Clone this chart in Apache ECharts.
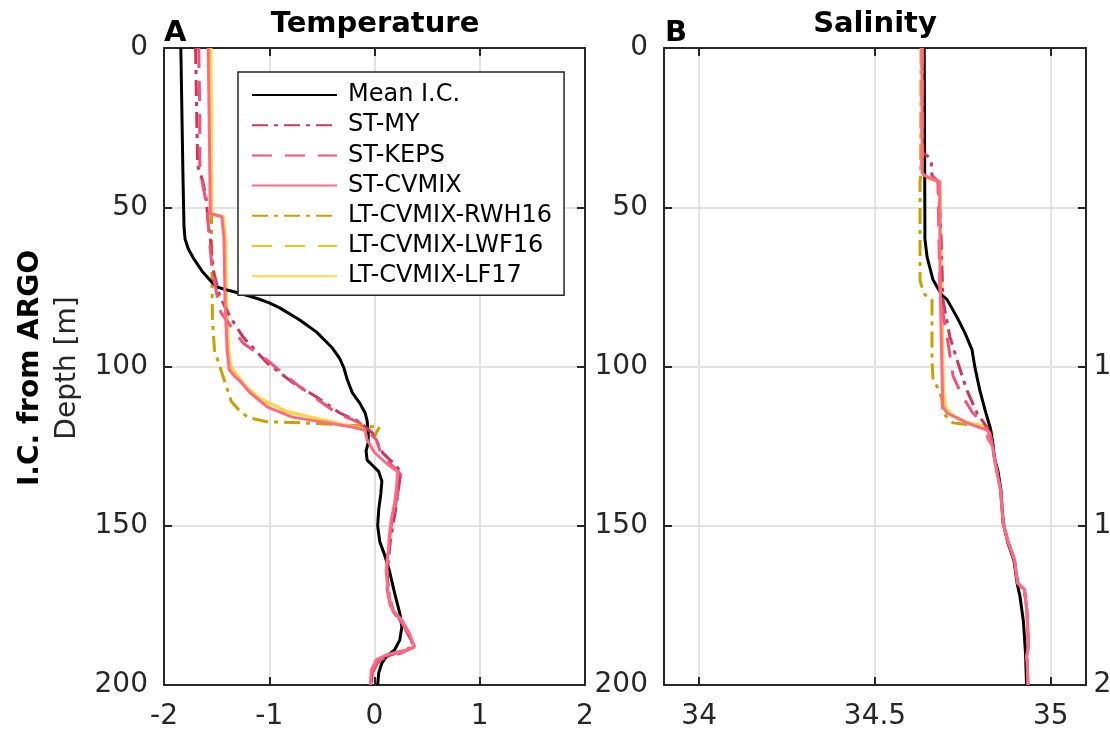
<!DOCTYPE html>
<html>
<head>
<meta charset="utf-8">
<script src="https://cdn.jsdelivr.net/npm/echarts@6/dist/echarts.min.js"></script>
<style>
html, body { margin: 0; padding: 0; background: #fff; }
#chart { width: 1110px; height: 734px; }
</style>
</head>
<body>
<div id="chart"></div>
<script>
// ticks
const depthTicks = [0, 50, 100, 150, 200];
const tempTicks = [-2, -1, 0, 1, 2];
const salTicks = [34, 34.5, 35];

const names = ['Mean I.C.', 'ST-MY', 'ST-KEPS', 'ST-CVMIX', 'LT-CVMIX-RWH16', 'LT-CVMIX-LWF16', 'LT-CVMIX-LF17'];

// temperature profiles [T, depth]
const tempMean = [[-1.84,0],[-1.83,20],[-1.82,40],[-1.81,56],[-1.80,60],[-1.77,63],[-1.72,66],[-1.64,70],[-1.56,73],[-1.50,75],[-1.40,76],[-1.28,77],[-1.10,78.8],[-1.00,80],[-0.90,81.6],[-0.71,85.4],[-0.55,89.2],[-0.40,94.2],[-0.33,97.5],[-0.29,100.5],[-0.26,104],[-0.21,108.3],[-0.14,111.5],[-0.09,114.5],[-0.07,117],[-0.06,121],[-0.06,124],[-0.08,126.5],[-0.07,129.4],[-0.02,131],[0.04,133],[0.07,136],[0.06,140],[0.04,145],[0.03,150],[0.05,155],[0.09,158.6],[0.14,163.9],[0.19,171],[0.24,177.4],[0.26,181.8],[0.24,185.9],[0.19,189],[0.11,191.2],[0.07,193.1],[0.04,196.2],[0.03,200]];
const tempSTMY = [[-1.70,0],[-1.69,20],[-1.68,37],[-1.63,42],[-1.60,47],[-1.58,55],[-1.56,60],[-1.53,70],[-1.47,78],[-1.37,84.5],[-1.25,90.7],[-1.02,98.9],[-0.78,105],[-0.55,109.6],[-0.33,114.6],[-0.14,117.4],[-0.02,120.9],[0.08,127.2],[0.20,131],[0.25,133],[0.23,138],[0.20,145],[0.15,155],[0.12,165],[0.14,172],[0.18,177],[0.27,181],[0.35,186],[0.37,188],[0.20,190],[0.05,192],[-0.02,196],[-0.03,200]];
const tempSTKEPS = [[-1.67,0],[-1.66,20],[-1.66,38],[-1.62,45],[-1.59,50],[-1.57,60],[-1.54,70],[-1.50,77],[-1.46,83],[-1.25,92.6],[-1.02,98],[-0.71,106.4],[-0.36,114.6],[-0.14,117.7],[0.02,123.1],[0.07,128.4],[0.20,132],[0.25,134],[0.22,140],[0.16,150],[0.12,160],[0.12,170],[0.15,175],[0.25,180],[0.34,185],[0.38,188],[0.25,190],[0.05,192],[-0.02,196],[-0.03,200]];
const tempSTCVMIX = [[-1.58,0],[-1.57,25],[-1.56,52],[-1.45,53],[-1.43,60],[-1.42,80],[-1.40,95],[-1.38,101],[-1.33,103],[-1.28,104.5],[-1.18,108.3],[-1.02,112.7],[-0.78,115.9],[-0.45,117.7],[-0.21,119],[-0.09,120],[-0.07,123],[0.0,127],[0.11,130.3],[0.22,133],[0.21,137.8],[0.19,143],[0.16,148],[0.14,153.5],[0.13,158.6],[0.11,163.9],[0.13,171],[0.17,176.5],[0.26,179.6],[0.33,183.7],[0.38,188],[0.30,189],[0.11,190.6],[0.02,192],[-0.03,195.3],[-0.04,200]];
const tempRWH16 = [[-1.56,0],[-1.555,25],[-1.55,50],[-1.545,70],[-1.54,85],[-1.52,95],[-1.47,100],[-1.42,105],[-1.36,111],[-1.28,114],[-1.20,116],[-1.03,117.3],[-0.62,117.8],[-0.27,118.4],[0.05,119],[0.03,120],[0.0,122]];
const tempLWF16 = [[-1.56,0],[-1.555,25],[-1.55,52],[-1.44,53],[-1.42,60],[-1.41,80],[-1.39,95],[-1.37,100],[-1.32,102.5],[-1.24,106],[-1.10,110],[-0.85,114],[-0.60,116],[-0.35,117.8],[-0.15,119.3],[-0.02,120.6],[0.0,121.5]];
const tempLF17 = [[-1.555,0],[-1.55,25],[-1.545,52],[-1.435,53],[-1.415,60],[-1.405,80],[-1.385,95],[-1.365,100],[-1.31,102.5],[-1.23,106],[-1.09,110],[-0.84,114],[-0.59,116],[-0.34,117.9],[-0.14,119.4],[-0.02,120.7],[0.0,121.5]];

// salinity profiles [S, depth]
const salMean = [[34.640,0],[34.641,30],[34.642,60],[34.648,65.6],[34.665,72.8],[34.690,77.6],[34.705,79],[34.733,84.5],[34.756,89.5],[34.776,94.8],[34.784,100.2],[34.798,107.4],[34.813,113.7],[34.827,119],[34.835,124],[34.840,129],[34.850,133],[34.858,138.8],[34.864,149],[34.878,155.4],[34.895,160.8],[34.904,168],[34.912,172],[34.922,180],[34.928,190],[34.931,200]];
const salSTMY = [[34.636,0],[34.636,33],[34.650,34],[34.660,36],[34.662,40],[34.680,42],[34.688,60],[34.693,79],[34.713,90.7],[34.736,98.9],[34.761,107.4],[34.790,114.6],[34.818,119],[34.833,124],[34.842,130],[34.857,138.8],[34.865,149],[34.880,155.4],[34.897,160.8],[34.906,168],[34.925,170.5],[34.932,176.5],[34.936,188],[34.931,191],[34.933,193],[34.935,200]];
const salSTKEPS = [[34.634,0],[34.634,37],[34.650,39],[34.679,42],[34.682,60],[34.685,78],[34.705,90.7],[34.722,103],[34.750,109.6],[34.778,114.6],[34.807,117.7],[34.827,121],[34.835,125],[34.842,130],[34.857,138.8],[34.864,149],[34.879,155.4],[34.897,160.8],[34.905,168],[34.925,170],[34.932,176.5],[34.937,188],[34.931,191],[34.933,193],[34.935,200]];
const salSTCVMIX = [[34.634,0],[34.634,39],[34.640,40],[34.660,41],[34.684,42],[34.685,72.8],[34.690,100],[34.693,112.7],[34.705,114.6],[34.761,117.7],[34.818,120],[34.827,121],[34.818,122],[34.835,125.3],[34.841,130],[34.857,138.8],[34.864,149],[34.879,155.4],[34.897,160.8],[34.905,168],[34.925,170],[34.932,176.5],[34.936,188],[34.931,191],[34.933,193],[34.935,200]];
const salRWH16 = [[34.631,0],[34.630,40],[34.628,42],[34.628,73],[34.636,76],[34.642,77.5],[34.662,79],[34.662,98],[34.665,104],[34.680,107],[34.690,110],[34.693,114.6],[34.722,117.7],[34.827,119],[34.835,122]];
const salLWF16 = [[34.633,0],[34.633,39],[34.640,40.5],[34.684,42],[34.686,60],[34.690,78],[34.692,100],[34.694,108],[34.700,113],[34.715,115],[34.760,117.5],[34.800,118.5],[34.820,119.5],[34.830,121]];
const salLF17 = [[34.634,0],[34.634,39],[34.641,40.5],[34.685,42],[34.687,60],[34.691,78],[34.693,100],[34.695,108],[34.701,113],[34.716,115],[34.761,117.5],[34.801,118.5],[34.821,119.5],[34.831,121]];

const tempData = [tempMean, tempSTMY, tempSTKEPS, tempSTCVMIX, tempRWH16, tempLWF16, tempLF17];
const salData = [salMean, salSTMY, salSTKEPS, salSTCVMIX, salRWH16, salLWF16, salLF17];

const colors = ['#000000', '#c9385b', '#f2517a', '#ff6b82', '#c9a000', '#f6c20f', '#ffd43f'];
const dashes = ['solid', [16, 6, 4, 6], [20, 13], 'solid', [16, 6, 4, 6], [20, 13], 'solid'];
const zs = [2, 3, 3, 3, 1, 1, 1];

const font = 'DejaVu Sans';
const axisColor = '#262626';
const gridColor = '#e2e2e2';

function xAxisPair(gridIndex, min, max, ticks) {
  const base = {
    type: 'value', gridIndex: gridIndex, min: min, max: max,
    axisLine: { show: true, onZero: false, lineStyle: { color: axisColor, width: 2 } },
    axisTick: { show: true, inside: true, length: 8, customValues: ticks, lineStyle: { color: axisColor, width: 2 } },
    axisLabel: { show: true, customValues: ticks, fontSize: 28, color: axisColor, fontFamily: font, margin: 18 },
    splitLine: { show: true, lineStyle: { color: gridColor, width: 2 } }
  };
  const top = JSON.parse(JSON.stringify(base));
  base.position = 'bottom';
  top.position = 'top';
  top.axisLabel.show = false;
  top.splitLine.show = false;
  return [base, top];
}

function yAxisPair(gridIndex) {
  const base = {
    type: 'value', gridIndex: gridIndex, min: 0, max: 200, inverse: true,
    axisLine: { show: true, onZero: false, lineStyle: { color: axisColor, width: 2 } },
    axisTick: { show: true, inside: true, length: 8, customValues: depthTicks, lineStyle: { color: axisColor, width: 2 } },
    axisLabel: { show: true, customValues: depthTicks, fontSize: 28, color: axisColor, fontFamily: font, margin: 16 },
    splitLine: { show: true, lineStyle: { color: gridColor, width: 2 } }
  };
  const right = JSON.parse(JSON.stringify(base));
  base.position = 'left';
  right.position = 'right';
  right.axisLabel.show = false;
  right.splitLine.show = false;
  return [base, right];
}

const xAxes = [].concat(xAxisPair(0, -2, 2, tempTicks), xAxisPair(1, 33.9, 35.1, salTicks),
  [{ type: 'value', gridIndex: 2, min: 0, max: 1, show: false }]);
const yAxes = [].concat(yAxisPair(0), yAxisPair(1),
  [{ type: 'value', gridIndex: 2, min: 0, max: 200, inverse: true,
     axisLine: { show: true, onZero: false, lineStyle: { color: axisColor, width: 2 } },
     axisTick: { show: true, inside: true, length: 8, customValues: depthTicks },
     axisLabel: { customValues: depthTicks, fontSize: 28, color: axisColor, fontFamily: font, margin: 16 },
     splitLine: { show: false } }]);

const series = [];
names.forEach(function (name, i) {
  [[tempData[i], 0, 0], [salData[i], 2, 2]].forEach(function (s) {
    series.push({
      name: name, type: 'line', data: s[0],
      xAxisIndex: s[1], yAxisIndex: s[2],
      symbol: 'none', smooth: false, z: zs[i],
      lineStyle: { color: colors[i], width: 3, type: dashes[i] },
      itemStyle: { color: colors[i] },
      emphasis: { disabled: true }
    });
  });
});

const chart = echarts.init(document.getElementById('chart'));
chart.setOption({
  animation: false,
  backgroundColor: '#fff',
  grid: [
    { left: 164, top: 48, width: 421, height: 637 },
    { left: 664, top: 48, width: 422, height: 637 },
    { left: 1163, top: 48, width: 300, height: 637 }
  ],
  xAxis: xAxes,
  yAxis: yAxes,
  legend: {
    orient: 'vertical', left: 238, top: 72, data: names,
    itemWidth: 85, itemHeight: 14, itemGap: 6.2,
    padding: [11, 12, 7, 13],
    backgroundColor: '#fff', borderColor: axisColor, borderWidth: 1.5, borderRadius: 0,
    selectedMode: false, z: 10,
    itemStyle: { opacity: 0 },
    textStyle: { fontSize: 24, color: '#000', fontFamily: font, padding: [0, 0, 0, 6] }
  },
  graphic: [
    { type: 'text', x: 375, y: 10, style: { text: 'Temperature', font: 'bold 29px "DejaVu Sans"', fill: '#000', align: 'center', verticalAlign: 'top' } },
    { type: 'text', x: 875, y: 10, style: { text: 'Salinity', font: 'bold 29px "DejaVu Sans"', fill: '#000', align: 'center', verticalAlign: 'top' } },
    { type: 'text', x: 164, y: 19, style: { text: 'A', font: 'bold 29px "DejaVu Sans"', fill: '#000', align: 'left', verticalAlign: 'top' } },
    { type: 'text', x: 665, y: 19, style: { text: 'B', font: 'bold 29px "DejaVu Sans"', fill: '#000', align: 'left', verticalAlign: 'top' } },
    { type: 'text', x: 31, y: 368, rotation: Math.PI / 2, style: { text: 'I.C. from ARGO', font: 'bold 28px "DejaVu Sans"', fill: '#000', align: 'center', verticalAlign: 'middle' } },
    { type: 'text', x: 68, y: 368, rotation: Math.PI / 2, style: { text: 'Depth [m]', font: '28px "DejaVu Sans"', fill: '#262626', align: 'center', verticalAlign: 'middle' } }
  ],
  series: series
});
</script>
</body>
</html>
